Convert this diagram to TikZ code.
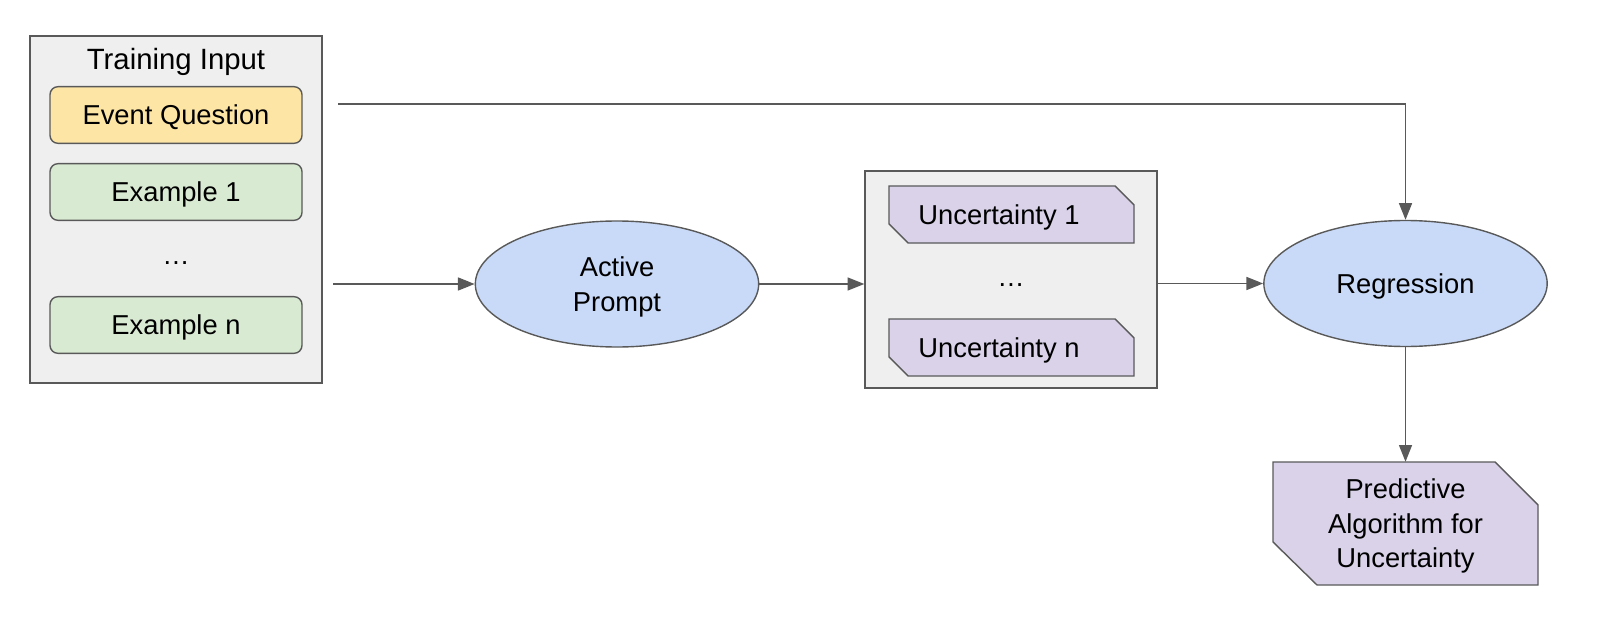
\documentclass[tikz,border=0pt]{standalone}
\usepackage{fontspec}
\setmainfont{Liberation Sans}
\usetikzlibrary{arrows.meta,shapes.geometric}
\definecolor{linec}{HTML}{595959}
\definecolor{boxgray}{HTML}{EFEFEF}
\definecolor{evy}{HTML}{FCE5A5}
\definecolor{exg}{HTML}{D9EAD3}
\definecolor{elb}{HTML}{C9DAF8}
\definecolor{purp}{HTML}{D9D2E9}
\tikzset{
  every node/.style={font=\fontsize{20.5}{26}\selectfont, inner sep=0pt, text=black},
  tx/.style={text height=14.7pt, text depth=0pt},
  multi/.style={align=center},
  container/.style={draw=linec, fill=boxgray, line width=1.05pt},
  rbox/.style={tx, draw=linec, line width=1.05pt, rounded corners=6pt, minimum width=189pt, minimum height=42.5pt},
  oval/.style={ellipse, draw=linec, fill=elb, line width=1.05pt, minimum width=212.5pt, minimum height=94.5pt},
  cutshape/.style={draw=linec, fill=purp, line width=1.05pt},
  arr/.style={draw=linec, line width=1.05pt, -{Triangle[length=12.5pt,width=9.75pt]}}
}
\begin{document}
\begin{tikzpicture}[x=0.75pt,y=-0.75pt]
\useasboundingbox (0,0) rectangle (1608,620);
% Training input container
\node[container, minimum width=219pt, minimum height=260.25pt] (train) at (176,209.5) {};
\node[font=\fontsize{22}{26}\selectfont, text height=15.75pt, text depth=0pt] (traintitle) at (176,59) {Training Input};
\node[rbox, fill=evy] (event) at (176,115) {Event Question};
\node[rbox, fill=exg] (ex1) at (176,192) {Example 1};
\node[tx] (dots1) at (176,255) {…};
\node[rbox, fill=exg] (exn) at (176,325) {Example n};
% Active prompt
\node[oval] (ap) at (617,284) {};
\node[multi] (aptext) at (617,287) {Active\\Prompt};
% Uncertainty container
\node[container, minimum width=219pt, minimum height=162.75pt] (unc) at (1011,279.5) {};
\draw[cutshape] (889,186) -- (1115,186) -- (1134,205) -- (1134,243) -- (908,243) -- (889,224) -- cycle;
\draw[cutshape] (889,319) -- (1115,319) -- (1134,338) -- (1134,376) -- (908,376) -- (889,357) -- cycle;
\node[tx] (u1) at (999,214.5) {Uncertainty 1};
\node[tx] (dots2) at (1011,277) {…};
\node[tx] (un) at (999,347.5) {Uncertainty n};
% Regression
\node[oval, tx] (reg) at (1405.5,283.5) {Regression};
% Predictive algorithm
\draw[cutshape] (1273,462) -- (1495,462) -- (1538,505) -- (1538,585) -- (1317,585) -- (1273,542) -- cycle;
\node[minimum width=198.75pt, minimum height=92.25pt] (predbox) at (1405.5,523.5) {};
\node[multi] (pred) at (1405.5,526) {Predictive\\Algorithm for\\Uncertainty};
% connectors
\coordinate (s1) at (338,104);
\coordinate (s2) at (333,284);
\draw[arr] (s1) -| (reg.north);
\draw[arr] (s2) -- (ap.west);
\draw[arr] (ap.east) -- (ap.east -| unc.west);
\draw[arr] (unc.east |- reg.west) -- (reg.west);
\draw[arr] (reg.south) -- (predbox.north);
\end{tikzpicture}
\end{document}
